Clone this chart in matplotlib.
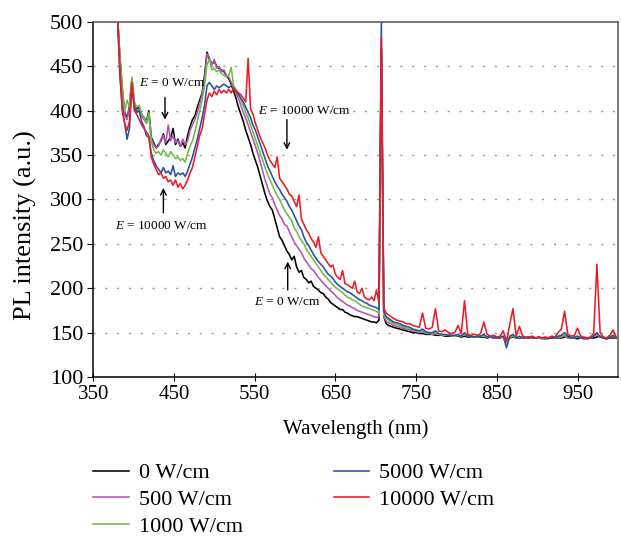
import numpy as np
import matplotlib
matplotlib.use("Agg")
import matplotlib.pyplot as plt

plt.rcParams['font.family'] = ['Liberation Serif', 'DejaVu Serif']
plt.rcParams['mathtext.fontset'] = 'custom'
plt.rcParams['mathtext.it'] = 'Liberation Serif:italic'
plt.rcParams['mathtext.rm'] = 'Liberation Serif'

# wavelength sampling (nm): 3 nm steps up to 719, 4 nm steps after
wl = np.concatenate([np.arange(380, 720, 3), np.arange(722, 1000, 4)])

labels = ['0 W/cm', '500 W/cm', '1000 W/cm', '5000 W/cm', '10000 W/cm']
colors = ['#000000', '#b954ae', '#6cbd45', '#2c4ea3', '#ec1c24']

# PL intensity, 380-719 nm
black_main = [510, 462, 425, 398, 392, 405, 436, 408, 402, 404,
              396, 392, 388, 400, 370, 364, 358, 362, 366, 374,
              362, 366, 370, 380, 362, 368, 360, 364, 358, 372,
              382, 390, 394, 404, 412, 420, 440, 466, 458, 452,
              456, 450, 448, 446, 444, 440, 436, 430, 422, 414,
              404, 396, 388, 378, 370, 362, 352, 344, 336, 326,
              316, 306, 298, 292, 288, 278, 268, 258, 254, 248,
              242, 238, 232, 236, 224, 218, 220, 212, 210, 206,
              208, 202, 200, 198, 195, 194, 190, 188, 184, 182,
              180, 178, 176, 176, 173, 172, 170, 169, 168, 168,
              167, 166, 165, 164, 163, 162, 162, 161, 164, 470,
              168, 160, 158, 157]
magenta_main = [510, 462, 424, 396, 390, 404, 432, 406, 400, 402,
                394, 390, 386, 396, 368, 362, 358, 360, 368, 372,
                364, 384, 366, 372, 364, 366, 360, 368, 362, 366,
                378, 384, 390, 398, 408, 418, 436, 464, 460, 452,
                458, 448, 450, 444, 446, 440, 438, 432, 426, 420,
                414, 406, 398, 392, 384, 376, 368, 360, 352, 342,
                332, 322, 314, 306, 302, 294, 288, 282, 278, 272,
                270, 264, 258, 252, 248, 244, 240, 234, 230, 226,
                222, 220, 216, 212, 209, 206, 203, 200, 197, 195,
                192, 189, 187, 185, 183, 181, 180, 178, 177, 175,
                174, 173, 172, 171, 170, 169, 168, 167, 168, 470,
                168, 163, 161, 160]
green_main = [510, 464, 428, 400, 412, 404, 438, 410, 404, 406,
              396, 392, 386, 398, 366, 356, 352, 354, 350, 356,
              352, 348, 354, 350, 346, 348, 344, 346, 342, 352,
              360, 366, 376, 388, 400, 412, 428, 452, 458, 446,
              448, 444, 446, 442, 440, 438, 440, 449, 428, 424,
              420, 412, 406, 398, 392, 384, 376, 368, 360, 352,
              344, 336, 328, 322, 316, 310, 304, 300, 294, 288,
              284, 280, 276, 268, 264, 258, 254, 250, 244, 240,
              236, 232, 228, 224, 220, 216, 213, 210, 207, 204,
              201, 199, 197, 195, 192, 190, 189, 187, 186, 184,
              182, 180, 179, 178, 177, 176, 175, 174, 172, 470,
              170, 166, 164, 162]
blue_main = [510, 440, 405, 386, 368, 380, 428, 404, 398, 400,
             388, 382, 372, 370, 352, 344, 338, 334, 330, 336,
             330, 332, 328, 338, 326, 330, 328, 330, 326, 332,
             340, 348, 358, 368, 380, 392, 406, 428, 432, 428,
             424, 428, 426, 428, 430, 428, 426, 428, 424, 422,
             418, 414, 410, 404, 398, 392, 384, 378, 370, 362,
             354, 346, 338, 332, 326, 320, 315, 311, 306, 302,
             298, 292, 288, 282, 276, 270, 266, 258, 252, 248,
             243, 238, 234, 230, 227, 224, 220, 216, 214, 211,
             207, 204, 202, 200, 198, 196, 195, 193, 191, 189,
             187, 186, 184, 183, 181, 180, 179, 178, 176, 500,
             174, 168, 166, 164]
red_main = [510, 450, 400, 386, 378, 388, 432, 400, 396, 390,
            384, 380, 376, 372, 348, 340, 334, 328, 330, 324,
            326, 320, 322, 316, 322, 314, 318, 312, 316, 322,
            330, 336, 348, 360, 372, 380, 396, 412, 420, 416,
            422, 418, 424, 420, 423, 420, 424, 420, 426, 422,
            420, 418, 414, 410, 459, 402, 396, 386, 378, 370,
            364, 358, 350, 344, 340, 336, 348, 324, 320, 316,
            312, 306, 304, 298, 292, 305, 278, 272, 266, 262,
            256, 252, 246, 258, 240, 236, 232, 228, 224, 226,
            216, 212, 210, 220, 205, 204, 202, 200, 208, 196,
            194, 200, 190, 188, 187, 190, 186, 198, 184, 482,
            178, 172, 170, 168]

# 722-998 nm
black_tail = [156, 155, 154, 153, 152, 151, 150, 150, 149, 149,
              148, 148, 148, 147, 147, 147, 146, 146, 146, 146,
              146, 145, 146, 145, 145, 145, 145, 145, 145, 144,
              145, 144, 144, 144, 145, 140, 144, 145, 144, 144,
              144, 144, 144, 145, 144, 144, 144, 143, 144, 144,
              144, 144, 144, 145, 146, 144, 144, 143, 144, 144,
              143, 144, 144, 145, 146, 144, 143, 144, 144, 144]
magenta_tail = [158, 157, 156, 155, 154, 153, 152, 151, 150, 151,
                149, 149, 148, 149, 148, 147, 147, 147, 146, 146,
                147, 146, 148, 146, 145, 145, 145, 146, 146, 145,
                145, 144, 144, 145, 145, 139, 145, 146, 144, 145,
                144, 144, 145, 144, 144, 144, 143, 144, 144, 145,
                144, 145, 145, 147, 144, 144, 144, 145, 144, 144,
                143, 144, 146, 148, 145, 144, 144, 145, 146, 144]
green_tail = [160, 159, 158, 157, 155, 154, 153, 152, 151, 152,
              150, 150, 149, 150, 148, 148, 147, 147, 147, 146,
              147, 146, 148, 146, 146, 145, 145, 146, 146, 145,
              145, 145, 144, 145, 145, 138, 145, 146, 144, 145,
              144, 144, 145, 144, 144, 145, 143, 144, 144, 145,
              144, 145, 146, 147, 144, 144, 145, 145, 144, 143,
              144, 144, 146, 149, 145, 144, 144, 145, 146, 144]
blue_tail = [162, 161, 160, 158, 157, 156, 154, 153, 152, 154,
             151, 150, 150, 152, 149, 148, 148, 147, 147, 147,
             148, 146, 150, 146, 146, 145, 146, 146, 148, 145,
             145, 145, 144, 145, 146, 133, 146, 148, 144, 146,
             144, 144, 145, 144, 144, 145, 144, 144, 143, 145,
             144, 146, 147, 150, 145, 144, 145, 146, 144, 143,
             144, 144, 146, 150, 145, 144, 143, 145, 147, 144]
red_tail = [166, 164, 163, 162, 160, 160, 158, 157, 156, 172,
            155, 154, 156, 177, 152, 151, 153, 150, 149, 150,
            158, 149, 186, 148, 147, 148, 147, 149, 162, 148,
            146, 147, 145, 146, 152, 140, 159, 177, 146, 157,
            146, 145, 145, 146, 144, 145, 144, 145, 144, 146,
            145, 150, 154, 174, 148, 146, 147, 155, 146, 145,
            144, 145, 149, 227, 150, 145, 144, 147, 153, 145]

series = [black_main + black_tail, magenta_main + magenta_tail,
          green_main + green_tail, blue_main + blue_tail, red_main + red_tail]

fig = plt.figure(figsize=(6.21, 5.37), dpi=100)
ax = fig.add_axes([0.150, 0.298, 0.845, 0.661])

for y in range(150, 500, 50):
    ax.axhline(y, color='#9a9a9a', lw=1.0, ls=(0, (1.5, 7.0)), zorder=0)

for vals, lab, c in zip(series, labels, colors):
    ax.plot(wl, vals, color=c, lw=1.15, label=lab)

ax.set_xlim(350, 1000)
ax.set_ylim(100, 500)
ax.set_xticks(range(350, 1000, 100))
ax.set_yticks(range(100, 501, 50))
ax.tick_params(axis='x', direction='inout', length=6, labelsize=15, pad=3)
ax.tick_params(axis='y', direction='out', length=4, labelsize=16, pad=3)
for s in ['top', 'right']:
    ax.spines[s].set_color('#555555')
for s in ax.spines.values():
    s.set_linewidth(1.1)

ax.set_xlabel('Wavelength (nm)', fontsize=15, labelpad=11)
ax.set_ylabel('PL intensity (a.u.)', fontsize=19)
ax.yaxis.set_label_coords(-0.107, 0.428)

arr = dict(arrowstyle='->', color='black', lw=1.0, shrinkA=0, shrinkB=0)
fs = 9.5
ax.annotate('', xy=(439, 390), xytext=(439, 415), arrowprops=arr)
ax.text(448, 431, r'$E$ = 0 W/cm', fontsize=fs, ha='center', va='center')
ax.annotate('', xy=(437, 313), xytext=(437, 285), arrowprops=arr)
ax.text(435, 270, r'$E$ = 10000 W/cm', fontsize=fs, ha='center', va='center')
ax.annotate('', xy=(590, 356), xytext=(590, 390), arrowprops=arr)
ax.text(612, 400, r'$E$ = 10000 W/cm', fontsize=fs, ha='center', va='center')
ax.annotate('', xy=(591, 230), xytext=(591, 198), arrowprops=arr)
ax.text(590, 184, r'$E$ = 0 W/cm', fontsize=fs, ha='center', va='center')

fig.legend(loc='upper left', bbox_to_anchor=(0.1354, 0.1546), ncol=2, frameon=False,
           fontsize=16, handlelength=1.6, handletextpad=0.45, columnspacing=4.1,
           labelspacing=0.28, borderaxespad=0)

fig.savefig('out.png', dpi=100)
